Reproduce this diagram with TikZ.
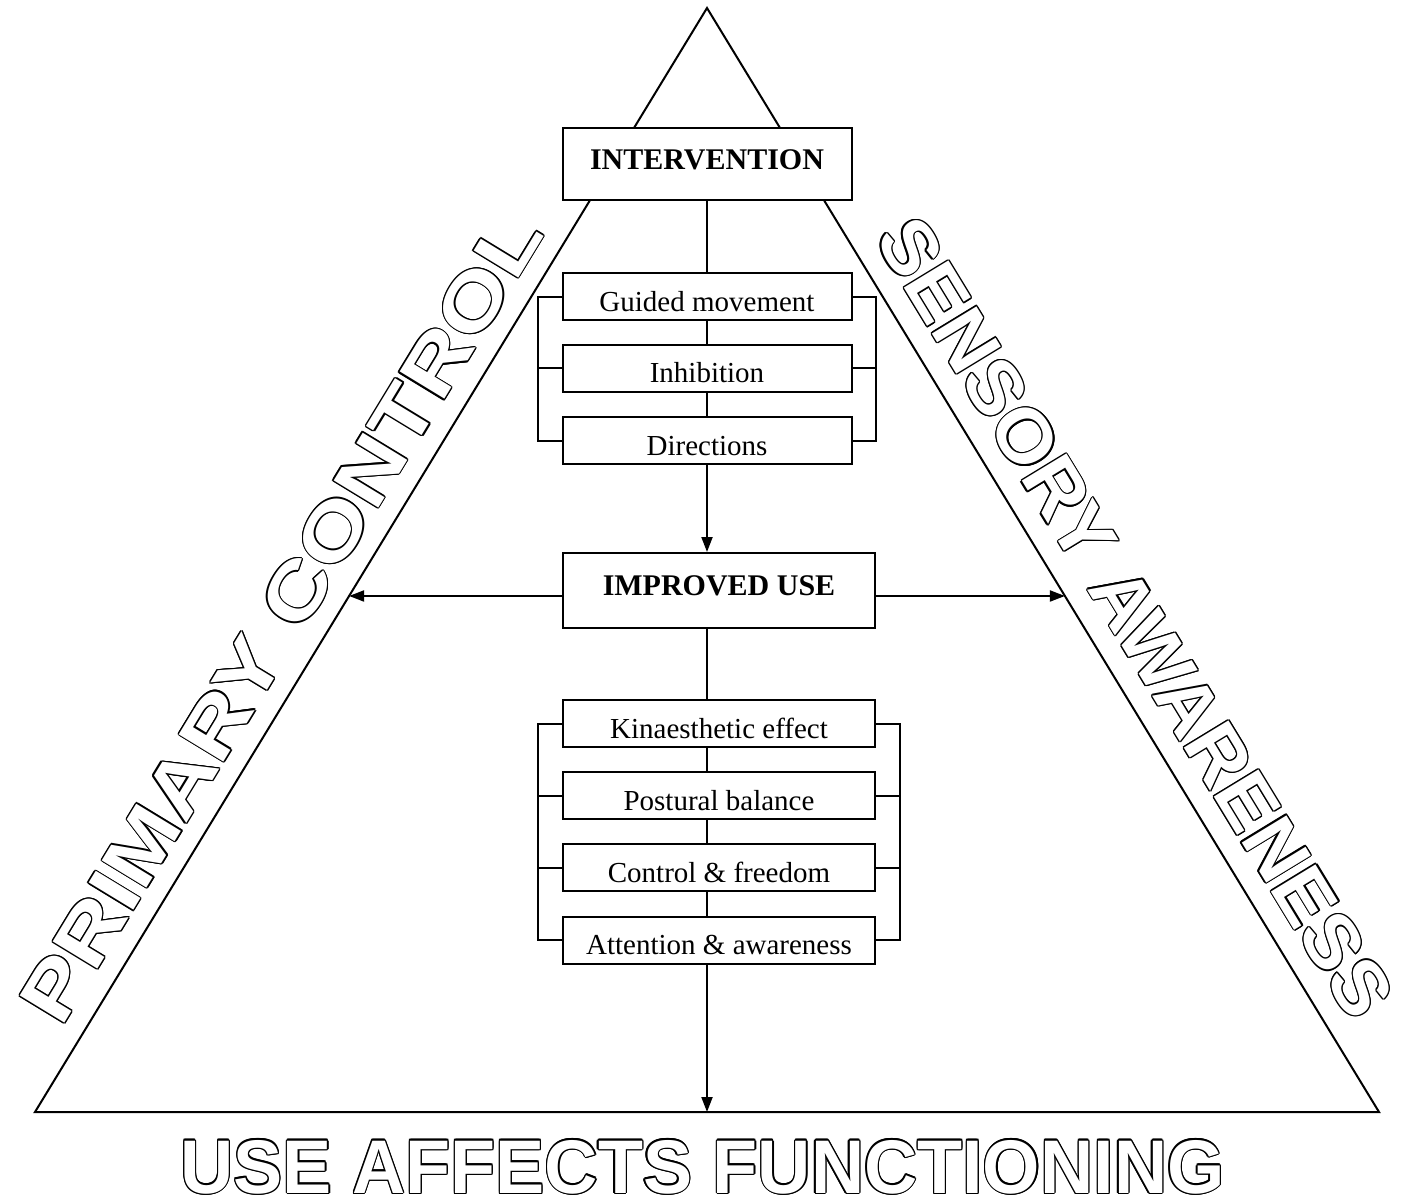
\documentclass[tikz,border=0pt]{standalone}
\usepackage{fontspec}
\usepackage{graphicx}
\setmainfont{Liberation Serif}
\setsansfont{Liberation Sans}
\usetikzlibrary{arrows.meta,calc}
% name, position, angle, xscale, text
\newcommand\hollowtext[5]{%
 \foreach \ang in {0,30,...,330}
  \node[hollow,text=black,rotate=#3,shift={(\ang:1.3pt)}] at (#2) {\scalebox{#4}[1]{#5}};
 \node[hollow,text=white,rotate=#3] (#1) at (#2) {\scalebox{#4}[1]{#5}};
}
\begin{document}
\begin{tikzpicture}[x=1pt,y=-1pt,line width=2pt,>={Triangle[length=15pt,width=11pt]},
 hollow/.style={font=\sffamily\bfseries\fontsize{76}{80}\selectfont,inner sep=0pt,anchor=base},
 head/.style={draw,fill=white,font=\bfseries\fontsize{30}{34}\selectfont,text height=21pt,text depth=11pt,inner sep=0pt},
 item/.style={draw,fill=white,font=\fontsize{29}{33}\selectfont,text height=29pt,text depth=0pt,inner sep=0pt,minimum height=47pt}]
 \useasboundingbox (0,0) rectangle (1410,1202);
 \coordinate (apex) at (707,8);
 \coordinate (bl) at (35,1112);
 \coordinate (br) at (1379,1112);
 \draw (apex) -- (bl) -- (br) -- cycle;
 \coordinate (pl) at ($(apex)!0.5326!(bl)$);
 \coordinate (pr) at ($(apex)!0.5326!(br)$);
 \node[head,minimum width=289pt,minimum height=72pt] (interv) at (707,164) {INTERVENTION};
 \node[item,minimum width=289pt] (guided) at (707,296.5) {Guided movement};
 \node[item,minimum width=289pt] (inhib) at (707,368) {Inhibition};
 \node[item,minimum width=289pt] (direct) at (707,440.5) {Directions};
 \node[head,minimum width=312pt,minimum height=75pt] (improved) at (719,590.5) {IMPROVED USE};
 \node[item,minimum width=312pt] (kin) at (719,723.5) {Kinaesthetic effect};
 \node[item,minimum width=312pt] (post) at (719,795.5) {Postural balance};
 \node[item,minimum width=312pt] (ctrl) at (719,867.5) {Control \& freedom};
 \node[item,minimum width=312pt] (att) at (719,940) {Attention \& awareness};
 \draw (interv) -- (guided) (guided) -- (inhib) (inhib) -- (direct);
 \draw[->] (direct) -- (direct.south |- improved.north);
 \draw (improved.south -| direct.south) -- (kin.north -| direct.south) (kin.south -| direct.south) -- (post.north -| direct.south) (post.south -| direct.south) -- (ctrl.north -| direct.south) (ctrl.south -| direct.south) -- (att.north -| direct.south);
 \draw[->] (att.south -| direct.south) -- (direct.south |- bl);
 \draw (guided.west) -- ++(-24,0) |- (direct.west) (inhib.west) -- ++(-24,0);
 \draw (guided.east) -- ++(23,0) |- (direct.east) (inhib.east) -- ++(23,0);
 \draw (kin.west) -- ++(-24,0) |- (att.west) (post.west) -- ++(-24,0) (ctrl.west) -- ++(-24,0);
 \draw (kin.east) -- ++(24,0) |- (att.east) (post.east) -- ++(24,0) (ctrl.east) -- ++(24,0);
 \draw[->] (improved.west |- pl) -- (pl);
 \draw[->] (improved.east |- pr) -- (pr);
 \hollowtext{primary}{303.5,631}{58.67}{1.25}{PRIMARY CONTROL}
 \hollowtext{sensory}{1113,631}{-58.67}{1.05}{SENSORY AWARENESS}
 \hollowtext{use}{702.5,1193}{0}{0.97}{USE AFFECTS FUNCTIONING}
\end{tikzpicture}
\end{document}
